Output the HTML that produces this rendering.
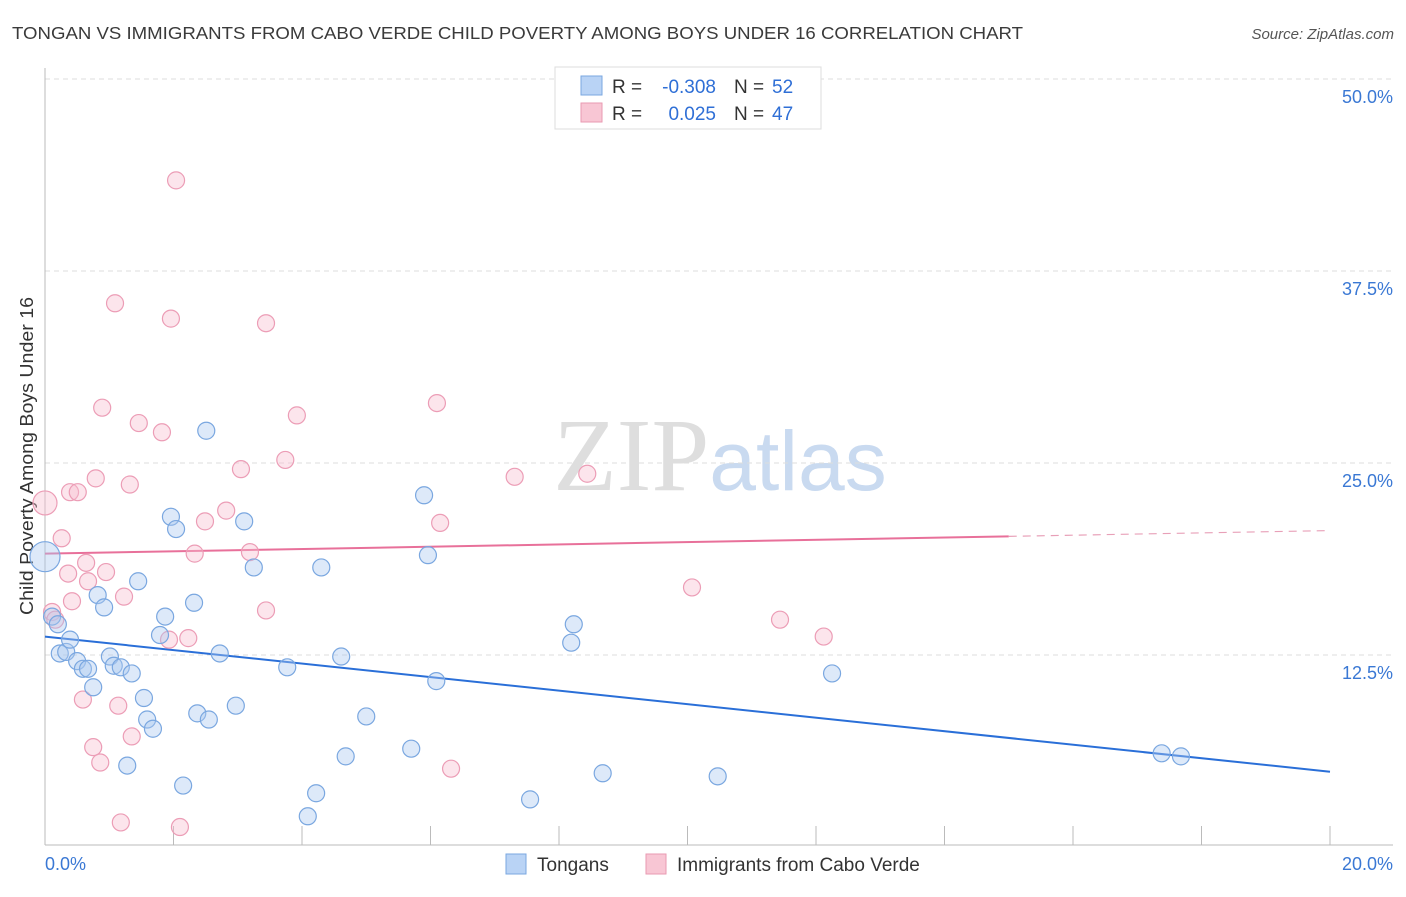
<!DOCTYPE html>
<html><head><meta charset="utf-8"><style>
body{margin:0;background:#fff;font-family:"Liberation Sans",sans-serif;}
svg text{font-family:"Liberation Sans",sans-serif;}
</style></head><body>
<svg id="chart" width="1406" height="892" viewBox="0 0 1406 892" xmlns="http://www.w3.org/2000/svg">
<text x="12" y="39" font-size="17.5" fill="#3a3a3a" textLength="1011" lengthAdjust="spacingAndGlyphs">TONGAN VS IMMIGRANTS FROM CABO VERDE CHILD POVERTY AMONG BOYS UNDER 16 CORRELATION CHART</text>
<text x="1394" y="39" font-size="15" fill="#555" text-anchor="end" font-style="italic">Source: ZipAtlas.com</text>
<text x="720" y="490" font-size="104" text-anchor="middle"><tspan fill="#dedede" font-family="Liberation Serif">ZIP</tspan><tspan fill="#c9daf0" font-size="84">atlas</tspan></text>
<text transform="translate(33,456) rotate(-90)" font-size="18" fill="#333" text-anchor="middle" textLength="318" lengthAdjust="spacingAndGlyphs">Child Poverty Among Boys Under 16</text>
<g id="grid"></g><g id="axes"></g><g id="trends"></g><g id="points"></g>
<g>
<rect x="555" y="67" width="266" height="62" fill="#fff" stroke="#ddd"/>
<rect x="581" y="76" width="21" height="19" fill="#b9d3f5" stroke="#7aa7e0"/>
<rect x="581" y="103" width="21" height="19" fill="#f8c6d4" stroke="#e99ab2"/>
<text x="612" y="93" font-size="19" fill="#333">R =</text>
<text x="716" y="93" font-size="19" fill="#2f6fd6" text-anchor="end">-0.308</text>
<text x="734" y="93" font-size="19" fill="#333">N =</text>
<text x="772" y="93" font-size="19" fill="#2f6fd6">52</text>
<text x="612" y="120" font-size="19" fill="#333">R =</text>
<text x="716" y="120" font-size="19" fill="#2f6fd6" text-anchor="end">0.025</text>
<text x="734" y="120" font-size="19" fill="#333">N =</text>
<text x="772" y="120" font-size="19" fill="#2f6fd6">47</text>
</g>
<g>
<rect x="506" y="854" width="20" height="20" fill="#b9d3f5" stroke="#7aa7e0"/>
<text x="537" y="871" font-size="19" fill="#333">Tongans</text>
<rect x="646" y="854" width="20" height="20" fill="#f8c6d4" stroke="#e99ab2"/>
<text x="677" y="871" font-size="19" fill="#333">Immigrants from Cabo Verde</text>
</g>
</svg>
<script>
const yTicks=[12.5,25,37.5,50];
const yTickLabels=["12.5%","25.0%","37.5%","50.0%"];
const xTickLabels=["0.0%","20.0%"];
const blueX=[0,0.11,0.20,0.23,0.33,0.39,0.50,0.59,0.67,0.75,0.82,0.92,1.01,1.07,1.18,1.28,1.35,1.45,1.54,1.59,1.68,1.79,1.87,1.96,2.04,2.15,2.32,2.37,2.51,2.55,2.72,2.97,3.10,3.25,3.77,4.09,4.22,4.30,4.61,4.68,5.00,5.70,5.90,5.96,6.09,7.55,8.19,8.23,8.68,10.47,12.25,17.38,17.68];
const blueY=[18.9,15.0,14.5,12.6,12.7,13.5,12.1,11.6,11.6,10.4,16.4,15.6,12.4,11.8,11.7,5.3,11.3,17.3,9.7,8.3,7.7,13.8,15.0,21.5,20.7,4.0,15.9,8.7,27.1,8.3,12.6,9.2,21.2,18.2,11.7,2.0,3.5,18.2,12.4,5.9,8.5,6.4,22.9,19.0,10.8,3.1,13.3,14.5,4.8,4.6,11.3,6.1,5.9];
const pinkX=[0,0.11,0.16,0.26,0.36,0.42,0.39,0.51,0.59,0.64,0.67,0.75,0.79,0.86,0.89,0.95,1.09,1.14,1.18,1.23,1.32,1.35,1.46,1.82,1.93,1.96,2.04,2.10,2.23,2.33,2.49,2.82,3.05,3.19,3.44,3.44,3.74,3.92,6.10,6.15,6.32,7.31,8.44,10.07,11.44,12.12];
const pinkY=[22.4,15.3,14.8,20.1,17.8,16.0,23.1,23.1,9.6,18.5,17.3,6.5,24.0,5.5,28.6,17.9,35.4,9.2,1.6,16.3,23.6,7.2,27.6,27.0,13.5,34.4,43.4,1.3,13.6,19.1,21.2,21.9,24.6,19.2,34.1,15.4,25.2,28.1,28.9,21.1,5.1,24.1,24.3,16.9,14.8,13.7];
const blueTrend=[13.7,4.9];
const pinkTrend=[19.1,20.6];
const NS="http://www.w3.org/2000/svg";
const X=v=>45+v/20*1285;
const Y=v=>847-v/12.5*192;
function mk(tag,attrs,parent){const e=document.createElementNS(NS,tag);for(const k in attrs)e.setAttribute(k,attrs[k]);document.getElementById(parent).appendChild(e);return e;}
yTicks.forEach((t,i)=>{
 const g=mk('line',{x1:45,x2:1393,y1:Y(t),y2:Y(t),stroke:'#ddd','stroke-dasharray':'5,4'},'grid');
 
 
 const l=mk('text',{x:1393,y:Y(t)+24,'font-size':18,fill:'#3a78d4','text-anchor':'end'},'grid');
 l.textContent=yTickLabels[i];
 
 
});
const ax=mk('line',{x1:45,x2:1393,y1:845,y2:845,stroke:'#bbb'},'axes');


const ay=mk('line',{x1:45,x2:45,y1:68,y2:845,stroke:'#bbb'},'axes');


for(let i=0;i<=10;i++){
 const t=mk('line',{x1:X(i*2),x2:X(i*2),y1:826,y2:845,stroke:'#bbb'},'axes');
 
 
}
[[0,'start',45],[1,'end',1393]].forEach(([i,a,x])=>{
 const t=mk('text',{x:x,y:870,'font-size':18,fill:'#3a78d4','text-anchor':a},'axes');
 t.textContent=xTickLabels[i];
 
 
});
const bl=mk('line',{x1:X(0),y1:Y(blueTrend[0]),x2:X(20),y2:Y(blueTrend[1]),stroke:'#2a6fd8','stroke-width':2},'trends');


const pAt=x=>pinkTrend[0]+(pinkTrend[1]-pinkTrend[0])*x/20;
const pl=mk('line',{x1:X(0),y1:Y(pAt(0)),x2:X(15),y2:Y(pAt(15)),stroke:'#e8709a','stroke-width':2},'trends');


const pd=mk('line',{x1:X(15),y1:Y(pAt(15)),x2:X(20),y2:Y(pAt(20)),stroke:'#e8a0b8','stroke-width':1.2,'stroke-dasharray':'8,6'},'trends');


pinkX.forEach((x,i)=>{
 const c=mk('circle',{cx:X(x),cy:Y(pinkY[i]),r:i==0?12:8.5,fill:'rgba(248,190,208,0.4)',stroke:'#ec9db6','stroke-width':1.2},'points');
 
 
});
blueX.forEach((x,i)=>{
 const c=mk('circle',{cx:X(x),cy:Y(blueY[i]),r:i==0?15:8.5,fill:'rgba(170,200,240,0.4)',stroke:'#7aa7e0','stroke-width':1.2},'points');
 
 
});
</script>
</body></html>
